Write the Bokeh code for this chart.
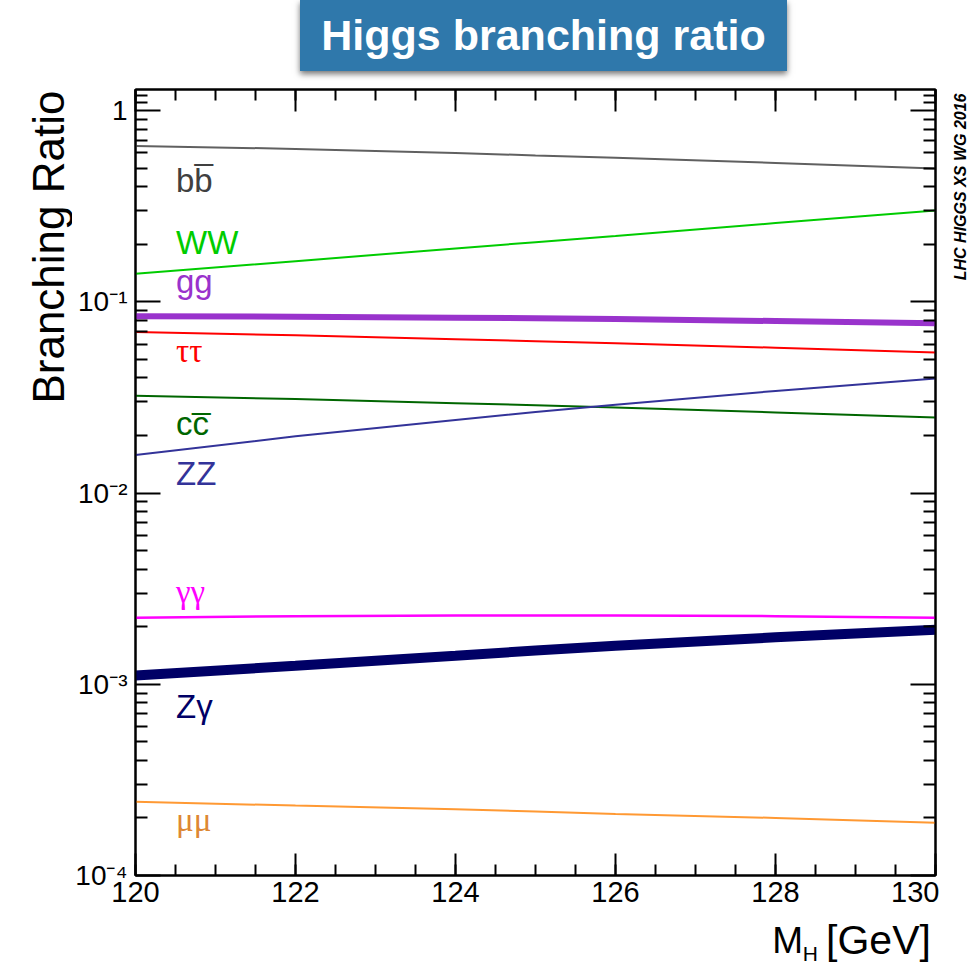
import math
from bokeh.plotting import figure
from bokeh.models import (Label, LinearAxis, LogAxis, FixedTicker,
                          CustomJSTickFormatter, Div)
from bokeh.layouts import column, row
from bokeh.embed import file_html
from bokeh.resources import INLINE

# ---------------- data ----------------
mass = [120, 122, 124, 125, 126, 128, 130]
br_bb = [0.653, 0.630, 0.600, 0.582, 0.566, 0.532, 0.497]
br_ww = [0.140, 0.163, 0.190, 0.205, 0.221, 0.258, 0.300]
br_gg = [0.0840, 0.0835, 0.0826, 0.0820, 0.0812, 0.0793, 0.0772]
br_tautau = [0.0695, 0.0668, 0.0637, 0.0622, 0.0606, 0.0575, 0.0543]
br_cc = [0.0323, 0.0310, 0.0295, 0.0288, 0.0280, 0.0264, 0.0248]
br_zz = [0.0158, 0.0198, 0.0241, 0.0265, 0.0289, 0.0342, 0.0397]
br_gamgam = [0.00223, 0.00227, 0.00229, 0.00229, 0.00229, 0.00227, 0.00223]
br_zgam = [0.00111, 0.00125, 0.00141, 0.00150, 0.00159, 0.00176, 0.00193]
br_mumu = [0.000243, 0.000232, 0.000222, 0.000216, 0.000210, 0.000200, 0.000189]

channel_names = ["bb\u0305", "WW", "gg", "\u03c4\u03c4", "cc\u0305", "ZZ", "\u03b3\u03b3", "Z\u03b3", "\u03bc\u03bc"]
x_ticks = [120, 122, 124, 126, 128, 130]
y_ticks = [1e-4, 1e-3, 1e-2, 1e-1, 1]

# ---------------- sizes ----------------
W = 969
H_TOP = 80
H_ROW = 885
W_LEFT = 72
W_RIGHT = 30
W_MID = W - W_LEFT - W_RIGHT      # 867
H_BOTTOM = 51
H_MAIN = H_ROW - H_BOTTOM         # 834

# ---------------- main figure ----------------
p = figure(width=W_MID, height=H_MAIN, y_axis_type="log",
           x_range=(120, 130), y_range=(1e-4, 1.288),
           output_backend="svg", toolbar_location=None,
           min_border_left=63, min_border_right=4,
           min_border_top=9, min_border_bottom=39,
           x_axis_location="below", y_axis_location="left")
p.background_fill_color = "white"
p.border_fill_color = "white"
p.outline_line_color = "black"
p.outline_line_width = 2
p.xgrid.visible = False
p.ygrid.visible = False

minor_y = [k * 10.0 ** e for e in range(-4, 0) for k in range(2, 10)] + [1.1, 1.2]
yticker = FixedTicker(ticks=y_ticks, minor_ticks=minor_y)
xticker = FixedTicker(ticks=x_ticks, minor_ticks=[120 + 0.5 * i for i in range(21)])

yfmt = CustomJSTickFormatter(code="""
const e = Math.round(Math.log10(tick));
if (e == 0) return "1";
const sup = {"-": "\u207b", "0": "\u2070", "1": "\u00b9", "2": "\u00b2", "3": "\u00b3", "4": "\u2074"};
let s = "";
for (const c of String(e)) s += sup[c];
return "10" + s;
""")

def style_axis(ax, tin, tmin):
    ax.axis_line_color = "black"
    ax.axis_line_width = 2
    ax.major_tick_in = tin
    ax.major_tick_out = 0
    ax.minor_tick_in = tmin
    ax.minor_tick_out = 0
    ax.major_tick_line_color = "black"
    ax.minor_tick_line_color = "black"
    ax.major_tick_line_width = 2
    ax.minor_tick_line_width = 2
    ax.major_label_text_font = "Liberation Sans"
    ax.major_label_text_color = "black"

xa = p.xaxis[0]
xa.ticker = xticker
style_axis(xa, 22, 11)
xa.major_label_text_font_size = "29px"
xa.major_label_standoff = 6

ya = p.yaxis[0]
ya.ticker = yticker
ya.formatter = yfmt
style_axis(ya, 25, 12)
ya.major_label_text_font_size = "28px"
ya.major_label_standoff = 8

top_ax = LinearAxis(ticker=xticker)
style_axis(top_ax, 22, 11)
top_ax.major_label_text_font_size = "1px"
top_ax.major_label_text_color = None
top_ax.major_label_standoff = 0
p.add_layout(top_ax, "above")
right_ax = LogAxis(ticker=yticker)
style_axis(right_ax, 25, 12)
right_ax.major_label_text_font_size = "1px"
right_ax.major_label_text_color = None
right_ax.major_label_standoff = 0
p.add_layout(right_ax, "right")

series = [
    (br_bb, "#606060", 2),
    (br_ww, "#00cc00", 2),
    (br_gg, "#9933cc", 6),
    (br_tautau, "#ff0000", 2),
    (br_cc, "#006600", 2),
    (br_zz, "#333399", 2),
    (br_gamgam, "#ff00ff", 2.5),
    (br_zgam, "#000066", 10),
    (br_mumu, "#ff9933", 2),
]
for vals, col, lw in series:
    p.line(mass, vals, line_color=col, line_width=lw)

lab_x = 120.506
lab_y = [0.430, 0.204, 0.127, 0.0556, 0.0231, 0.0126, 0.00305, 0.000765, 0.000196]
lab_col = ["#404040", "#00cc00", "#9933cc", "#ff0000", "#006600", "#333399", "#ff00ff", "#000066", "#dd8833"]
lab_font = ["Liberation Sans", "Liberation Sans", "Liberation Sans", "Liberation Serif",
            "Liberation Sans", "Liberation Sans", "Liberation Serif", "Liberation Sans", "Liberation Serif"]
for t, yv, c, f in zip(channel_names, lab_y, lab_col, lab_font):
    p.add_layout(Label(x=lab_x, y=yv, text=t, text_color=c, text_font=f,
                       text_font_size="33px", text_align="left", text_baseline="alphabetic"))

# ---------------- strip figures (no axes) for the outer texts ----------------
def strip(w, h):
    s = figure(width=w, height=h, x_range=(0, w), y_range=(0, h),
               output_backend="svg", toolbar_location=None,
               x_axis_location=None, y_axis_location=None,
               min_border=0, min_border_left=0, min_border_right=0,
               min_border_top=0, min_border_bottom=0)
    s.grid.visible = False
    s.outline_line_color = None
    s.background_fill_color = "white"
    s.border_fill_color = "white"
    return s

left_fig = strip(W_LEFT, H_ROW)
left_fig.add_layout(Label(x=48, y=H_ROW - 10, text="Branching Ratio", angle=math.pi / 2,
                          text_align="right", text_baseline="alphabetic",
                          text_font="Liberation Sans", text_font_size="44px", text_color="black"))

right_fig = strip(W_RIGHT, H_ROW)
right_fig.add_layout(Label(x=21, y=H_ROW - 13, text="LHC HIGGS XS WG 2016", angle=math.pi / 2,
                           text_align="right", text_baseline="alphabetic",
                           text_font="Liberation Sans", text_font_style="bold italic",
                           text_font_size="16px", text_color="black"))

bottom_fig = strip(W_MID, H_BOTTOM)
bottom_fig.add_layout(Label(x=762 - W_LEFT, y=25, text="M", text_align="left",
                            text_baseline="alphabetic", text_font="Liberation Sans",
                            text_font_size="37px", text_color="black"))
bottom_fig.add_layout(Label(x=795 - W_LEFT, y=12, text="H", text_align="left",
                            text_baseline="alphabetic", text_font="Liberation Sans",
                            text_font_size="21px", text_color="black"))
bottom_fig.add_layout(Label(x=934 - W_LEFT, y=26, text="[GeV]", text_align="right",
                            text_baseline="alphabetic", text_font="Liberation Sans",
                            text_font_size="41px", text_color="black"))

# ---------------- title box ----------------
title = Div(text=(
    '<div style="margin-left:300px;width:487px;height:71px;background:#2f78ab;'
    'box-shadow:0px 3px 6px rgba(0,0,0,0.55);display:flex;align-items:center;'
    'justify-content:center;color:white;font-family:\'Liberation Sans\',Arial,sans-serif;'
    'font-weight:bold;font-size:43px;">Higgs branching ratio</div>'),
    width=W, height=H_TOP, margin=(0, 0, 0, 0))

mid = column(p, bottom_fig, spacing=0, margin=(0, 0, 0, 0))
body = row(left_fig, mid, right_fig, spacing=0, margin=(0, 0, 0, 0))
layout = column(title, body, spacing=0, margin=(0, 0, 0, 0))
open("out.html", "w").write(file_html(layout, INLINE))
